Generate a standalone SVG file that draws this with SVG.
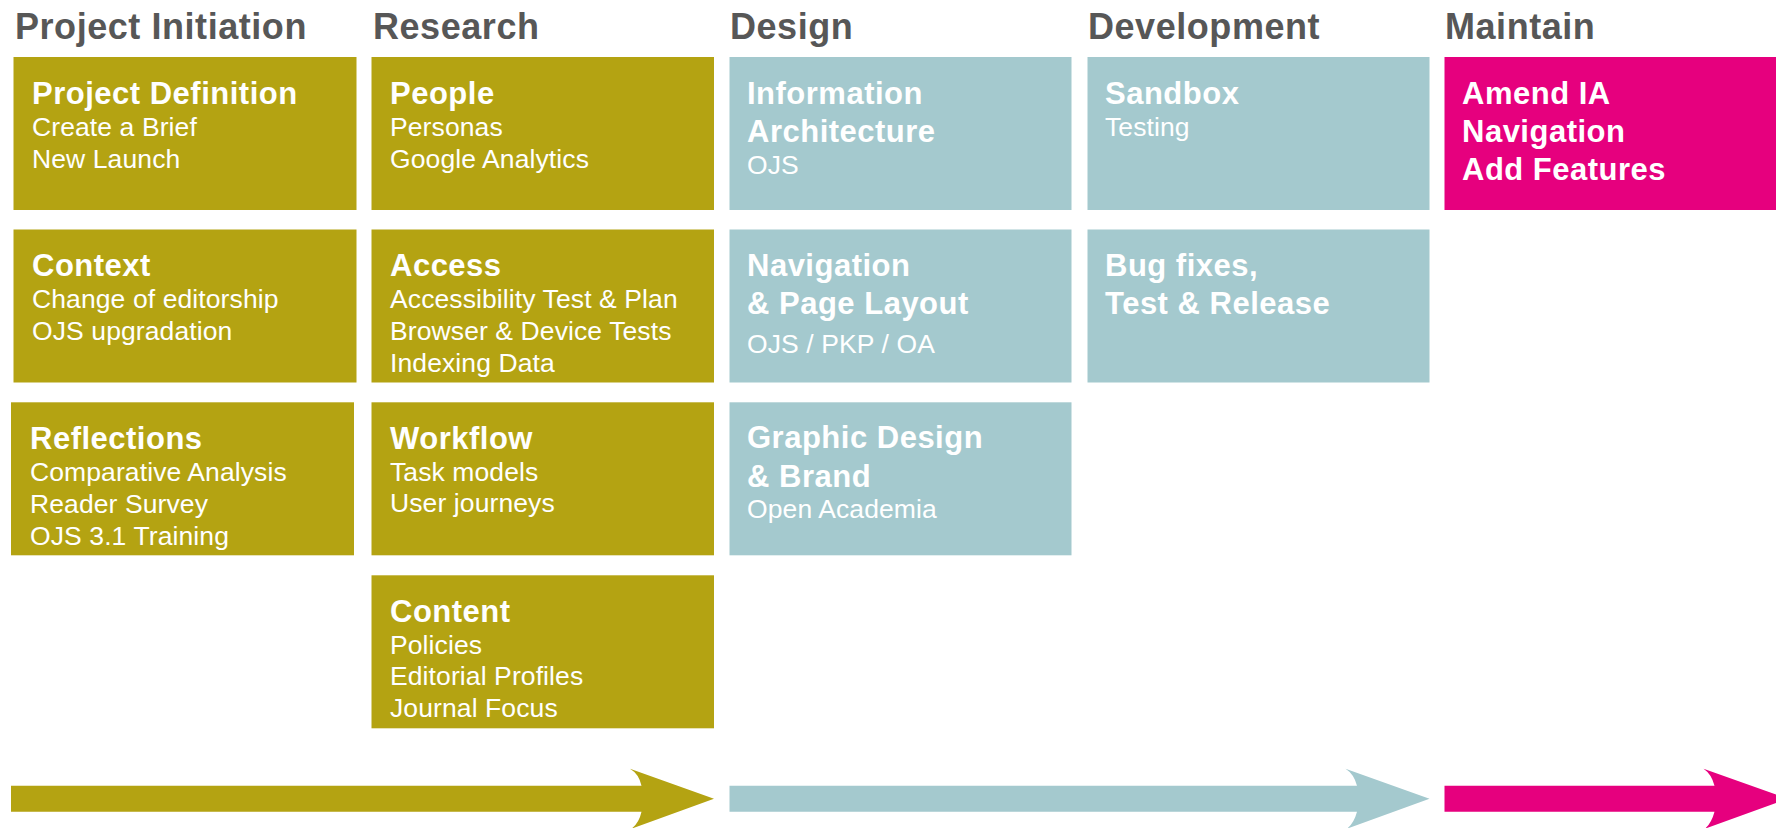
<svg xmlns="http://www.w3.org/2000/svg" width="1776" height="828" viewBox="0 0 1776 828">
<style>
  .olive { fill: #B4A312; }
  .blue { fill: #A4C9CE; }
  .pink { fill: #E6007E; }
  text { font-family: "Liberation Sans", Arial, Helvetica, sans-serif; }
  .h { font-size: 36px; font-weight: bold; fill: #575757; letter-spacing: 0.55px; }
  .t { font-size: 31px; font-weight: bold; fill: #FFFFFF; letter-spacing: 0.5px; }
  .s { font-size: 26.5px; fill: #FFFFFF; letter-spacing: 0.1px; }
</style>
<rect x="0" y="0" width="1776" height="828" fill="#FFFFFF"/>

<g id="headings">
  <text class="h" x="15" y="39">Project Initiation</text>
  <text class="h" x="373" y="39">Research</text>
  <text class="h" x="730" y="39">Design</text>
  <text class="h" x="1088" y="39">Development</text>
  <text class="h" x="1445" y="39">Maintain</text>
</g>

<g id="project-definition">
  <rect class="olive" x="13.5" y="57" width="343" height="153"/>
  <text class="t" x="32" y="104">Project Definition</text>
  <text class="s" x="32" y="136">Create a Brief</text>
  <text class="s" x="32" y="168">New Launch</text>
</g>
<g id="context">
  <rect class="olive" x="13.5" y="229.5" width="343" height="153"/>
  <text class="t" x="32" y="276">Context</text>
  <text class="s" x="32" y="308">Change of editorship</text>
  <text class="s" x="32" y="340">OJS upgradation</text>
</g>
<g id="reflections">
  <rect class="olive" x="11" y="402.3" width="343" height="153"/>
  <text class="t" x="30" y="449">Reflections</text>
  <text class="s" x="30" y="480.5">Comparative Analysis</text>
  <text class="s" x="30" y="512.5">Reader Survey</text>
  <text class="s" x="30" y="544.5">OJS 3.1 Training</text>
</g>

<g id="people">
  <rect class="olive" x="371.5" y="57" width="342.5" height="153"/>
  <text class="t" x="390" y="104">People</text>
  <text class="s" x="390" y="136">Personas</text>
  <text class="s" x="390" y="168">Google Analytics</text>
</g>
<g id="access">
  <rect class="olive" x="371.5" y="229.5" width="342.5" height="153"/>
  <text class="t" x="390" y="276">Access</text>
  <text class="s" x="390" y="308">Accessibility Test &amp; Plan</text>
  <text class="s" x="390" y="340">Browser &amp; Device Tests</text>
  <text class="s" x="390" y="372">Indexing Data</text>
</g>
<g id="workflow">
  <rect class="olive" x="371.5" y="402.3" width="342.5" height="153"/>
  <text class="t" x="390" y="448.5">Workflow</text>
  <text class="s" x="390" y="480.5">Task models</text>
  <text class="s" x="390" y="512">User journeys</text>
</g>
<g id="content">
  <rect class="olive" x="371.5" y="575.3" width="342.5" height="153"/>
  <text class="t" x="390" y="621.7">Content</text>
  <text class="s" x="390" y="653.5">Policies</text>
  <text class="s" x="390" y="685">Editorial Profiles</text>
  <text class="s" x="390" y="717">Journal Focus</text>
</g>

<g id="information-architecture">
  <rect class="blue" x="729.5" y="57" width="342" height="153"/>
  <text class="t" x="747" y="103.5">Information</text>
  <text class="t" x="747" y="142">Architecture</text>
  <text class="s" x="747" y="174">OJS</text>
</g>
<g id="navigation-page-layout">
  <rect class="blue" x="729.5" y="229.5" width="342" height="153"/>
  <text class="t" x="747" y="275.5">Navigation</text>
  <text class="t" x="747" y="314">&amp; Page Layout</text>
  <text class="s" x="747" y="352.5">OJS / PKP / OA</text>
</g>
<g id="graphic-design-brand">
  <rect class="blue" x="729.5" y="402.3" width="342" height="153"/>
  <text class="t" x="747" y="448">Graphic Design</text>
  <text class="t" x="747" y="486.7">&amp; Brand</text>
  <text class="s" x="747" y="518.3">Open Academia</text>
</g>

<g id="sandbox">
  <rect class="blue" x="1087.5" y="57" width="342" height="153"/>
  <text class="t" x="1105" y="103.5">Sandbox</text>
  <text class="s" x="1105" y="136">Testing</text>
</g>
<g id="bug-fixes">
  <rect class="blue" x="1087.5" y="229.5" width="342" height="153"/>
  <text class="t" x="1105" y="275.5">Bug fixes,</text>
  <text class="t" x="1105" y="314">Test &amp; Release</text>
</g>

<g id="maintain-tasks">
  <rect class="pink" x="1444.5" y="57" width="331.5" height="153"/>
  <text class="t" x="1462" y="104">Amend IA</text>
  <text class="t" x="1462" y="142">Navigation</text>
  <text class="t" x="1462" y="180">Add Features</text>
</g>

<g id="connectors">
  <path class="olive" d="M11,785.7 H641.5 Q639,774 630,768.7 L714,798.7 L631.5,828.7 Q639,823 641.5,811.7 H11 Z"/>
  <path class="blue" d="M729.5,785.7 H1357 Q1354,774 1345.5,768.7 L1429.5,798.7 L1347,828.7 Q1354,823 1357,811.7 H729.5 Z"/>
  <path class="pink" d="M1444.5,785.7 H1714.5 Q1711.5,774 1703.5,768.7 L1787.5,798.7 L1705,828.7 Q1711.5,823 1714.5,811.7 H1444.5 Z"/>
</g>
</svg>
